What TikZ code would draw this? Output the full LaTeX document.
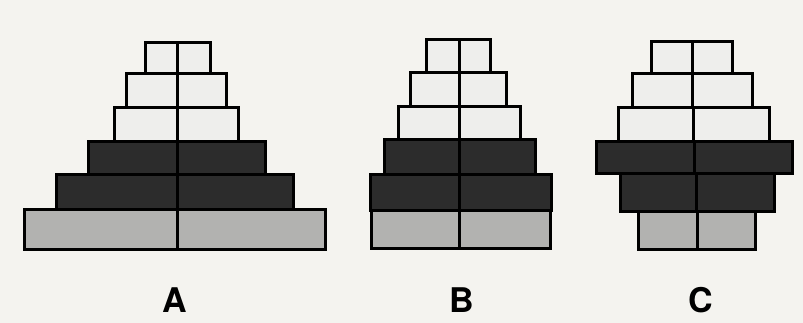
\documentclass[tikz,border=0pt]{standalone}
\usepackage{fontspec}
\setmainfont{TeX Gyre Heros}
\definecolor{bg}{HTML}{F4F3EF}
\definecolor{lite}{HTML}{EEEEEC}
\definecolor{dark}{HTML}{2C2C2C}
\definecolor{mid}{HTML}{B2B2B0}
\newcommand\prow[6]{%
  \draw[rowbox,fill=#6] (#1,#3) rectangle (#2,#4);
  \draw[divider] (#5,#3) -- (#5,#4);}
\begin{document}
\begin{tikzpicture}[x=1pt,y=-1pt,
  rowbox/.style={draw=black,line width=3pt,line join=miter},
  divider/.style={draw=black,line width=3pt},
  lab/.style={font=\fontsize{34}{34}\selectfont\bfseries,text=black,inner sep=0pt,anchor=base}]
\fill[bg] (0,0) rectangle (803,323);
\useasboundingbox (0,0) rectangle (803,323);
% Pyramid A
\prow{24.3}{325}{210}{249}{177}{mid}
\prow{56.7}{293}{175}{210}{177}{dark}
\prow{88}{265}{141.7}{175}{177}{dark}
\prow{114}{238}{108}{141.7}{177}{lite}
\prow{126.7}{226.7}{74}{108}{177}{lite}
\prow{145}{210}{42.7}{74}{177}{lite}
% Pyramid B
\prow{371}{550.7}{210.7}{248.3}{459}{mid}
\prow{370}{551.7}{175}{210.7}{459}{dark}
\prow{384.3}{535}{140}{175}{459}{dark}
\prow{398.3}{520}{106.7}{140}{459}{lite}
\prow{410.7}{506}{72.7}{106.7}{459}{lite}
\prow{426}{490.7}{40}{72.7}{459}{lite}
% Pyramid C
\prow{638.3}{755}{211.7}{249.3}{697}{mid}
\prow{620.7}{774}{174}{211.7}{696}{dark}
\prow{596.7}{792.7}{141.7}{174}{694.5}{dark}
\prow{618.3}{769.3}{107.3}{141.7}{693}{lite}
\prow{632.3}{752.7}{74}{107.3}{692.5}{lite}
\prow{651.7}{732.7}{41.7}{74}{692}{lite}
% Labels
\node[lab] (la) at (175,312.5) {A};
\node[lab] (lb) at (462,312.5) {B};
\node[lab] (lc) at (701,312.5) {C};
\end{tikzpicture}
\end{document}
